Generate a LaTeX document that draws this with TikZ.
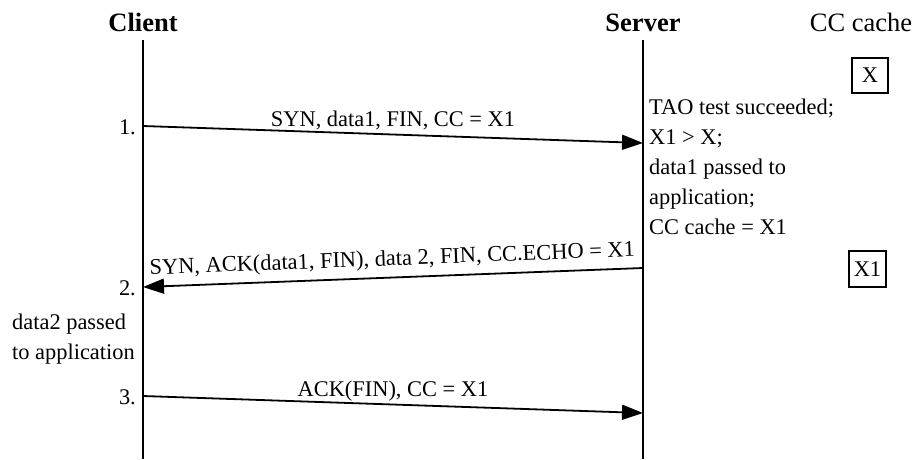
\documentclass[tikz,border=0pt]{standalone}
\usepackage{fontspec}
\setmainfont{Liberation Serif}
\usetikzlibrary{arrows.meta,positioning,calc}
\definecolor{Ink}{HTML}{000000}
\newcommand{\StepNum}[3]{%
  \node[anchor=base east,inner sep=0pt,font=\fontsize{22.4}{30}\selectfont] (#1) at (136,#2) {#3};%
}
\tikzset{
  life/.style={draw=Ink,line width=2pt},
  msg/.style={draw=Ink,line width=1.8pt,-{Triangle[length=21pt,width=15pt]}},
  lbl/.style={font=\fontsize{22.4}{30}\selectfont,inner sep=0pt},
  cachebox/.style={draw=Ink,line width=1.5pt,inner sep=0pt,minimum width=36pt,minimum height=35pt,font=\fontsize{22.4}{30}\selectfont}
}

\begin{document}
\begin{tikzpicture}[x=1pt,y=-1pt]
\useasboundingbox (0,0) rectangle (917,459);
% headers
\node[anchor=base,font=\fontsize{26.5}{30}\selectfont\bfseries] (client) at (143,31) {Client};
\node[anchor=base,font=\fontsize{26.5}{30}\selectfont\bfseries] (server) at (643,31) {Server};
\node[anchor=base,font=\fontsize{26.5}{30}\selectfont] (cccache) at (861,31) {CC cache};
% lifelines
\foreach \n/\x in {cl/143,sv/643} {
  \coordinate (\n-top) at (\x,40);
  \coordinate (\n-bot) at (\x,459);
  \draw[life] (\n-top) -- (\n-bot);
}
% messages
\coordinate (c1) at (143,126);
\coordinate (s1) at (643,143);
\coordinate (s2) at (643,268);
\coordinate (c2) at (143,287);
\coordinate (c3) at (143,396);
\coordinate (s3) at (643,413);
\draw[msg] (c1) -- node[lbl,anchor=base,yshift=8.5pt] (m1) {SYN, data1, FIN, CC = X1} (s1);
\draw[msg] (s2) -- node[lbl,sloped,anchor=base,yshift=12pt] (m2) {SYN, ACK(data1, FIN), data 2, FIN, CC.ECHO = X1} (c2);
\draw[msg] (c3) -- node[lbl,anchor=base,yshift=8pt] (m3) {ACK(FIN), CC = X1} (s3);
\StepNum{n1}{134.5}{1.}
\StepNum{n2}{295.5}{2.}
\StepNum{n3}{404.5}{3.}
% notes
\node[lbl,anchor=north west,align=left] (taonote) at (649,99) {TAO test succeeded;\\X1 > X;\\data1 passed to\\application;\\CC cache = X1};
\node[lbl,anchor=north west,align=left] (clnote) at (12,314) {data2 passed\\to application};
% cache contents
\node[cachebox] (cacheold) at (870,75.5) {X};
\node[cachebox,minimum width=37pt,minimum height=36pt] (cachenew) at (867.5,269) {X1};
\end{tikzpicture}
\end{document}
